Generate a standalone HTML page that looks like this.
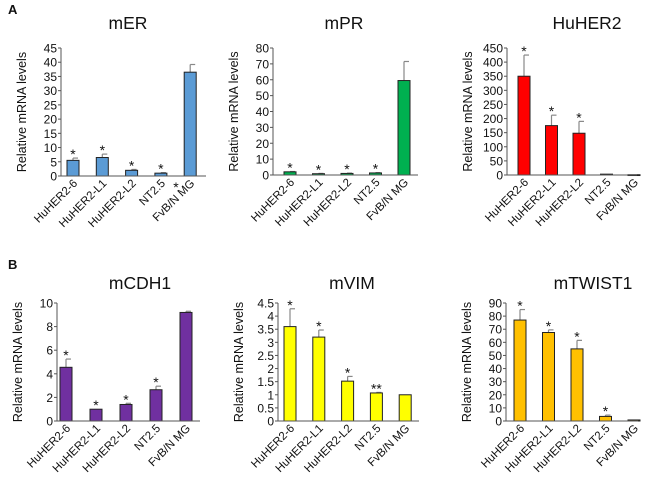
<!DOCTYPE html>
<html><head><meta charset="utf-8"><style>
body{margin:0;background:#fff;}
svg text{font-family:"Liberation Sans",sans-serif;fill:#111;}
</style></head><body>
<svg id="fig" width="650" height="481" viewBox="0 0 650 481" xmlns="http://www.w3.org/2000/svg">
<text x="8" y="14" font-size="13" font-weight="bold">A</text>
<text x="8" y="269" font-size="13" font-weight="bold">B</text>
<text x="176" y="192" font-size="14" text-anchor="middle">*</text>
</svg>
<script>
const categories=["HuHER2-6","HuHER2-L1","HuHER2-L2","NT2.5","FvB/N MG"];
const merValues=[5.5,6.5,2,1,36.5];
const merErrors=[0.8,1.2,0.3,0.2,2.7];
const merStars=["*","*","*","*",""];
const merTicks=[0,5,10,15,20,25,30,35,40,45];
const mprValues=[2,0.8,1,1.3,59.5];
const mprErrors=[0.2,0.2,0.2,0.2,12];
const mprStars=["*","*","*","*",""];
const mprTicks=[0,10,20,30,40,50,60,70,80];
const her2Values=[350,175,148,3,1];
const her2Errors=[75,37,42,0,0];
const her2Stars=["*","*","*","",""];
const her2Ticks=[0,50,100,150,200,250,300,350,400,450];
const cdh1Values=[4.55,1,1.4,2.65,9.2];
const cdh1Errors=[0.7,0,0.1,0.3,0.1];
const cdh1Stars=["*","*","*","*",""];
const cdh1Ticks=[0,2,4,6,8,10];
const vimValues=[3.6,3.2,1.52,1.07,1];
const vimErrors=[0.68,0.27,0.18,0.02,0];
const vimStars=["*","*","*","**",""];
const vimTicks=[0,0.5,1,1.5,2,2.5,3,3.5,4,4.5];
const twistValues=[77,67.5,55,3.5,0.8];
const twistErrors=[8,2,6.5,1,0];
const twistStars=["*","*","*","*",""];
const twistTicks=[0,10,20,30,40,50,60,70,80,90];

const NS="http://www.w3.org/2000/svg";
const svg=document.getElementById('fig');
function mk(tag,attrs,parent){const e=document.createElementNS(NS,tag);for(const k in attrs)e.setAttribute(k,attrs[k]);(parent||svg).appendChild(e);return e;}

const panels=[
 {id:"mer",title:"mER",vals:merValues,errs:merErrors,stars:merStars,ticks:merTicks,color:"#5b9bd5",ax:61,ax2:206,y0:176,yt:48,b0:73,step:29.3,tx:128,ty:29},
 {id:"mpr",title:"mPR",vals:mprValues,errs:mprErrors,stars:mprStars,ticks:mprTicks,color:"#00b050",ax:273,ax2:418,y0:175,yt:48,b0:290,step:28.5,tx:344,ty:29},
 {id:"huher2",title:"HuHER2",vals:her2Values,errs:her2Errors,stars:her2Stars,ticks:her2Ticks,color:"#ff0000",ax:507,ax2:637,y0:175,yt:48,b0:524,step:27.5,tx:587,ty:29},
 {id:"mcdh1",title:"mCDH1",vals:cdh1Values,errs:cdh1Errors,stars:cdh1Stars,ticks:cdh1Ticks,color:"#7030a0",ax:57,ax2:200,y0:421,yt:303,b0:66,step:30,tx:140,ty:289},
 {id:"mvim",title:"mVIM",vals:vimValues,errs:vimErrors,stars:vimStars,ticks:vimTicks,color:"#ffff00",ax:278,ax2:419,y0:421,yt:303,b0:290,step:28.8,tx:352,ty:289},
 {id:"mtwist1",title:"mTWIST1",vals:twistValues,errs:twistErrors,stars:twistStars,ticks:twistTicks,color:"#ffc000",ax:506,ax2:638,y0:421,yt:303,b0:520,step:28.5,tx:593,ty:289}
];

panels.forEach(p=>{
 const g=mk('g',{});
 
 
 const max=p.ticks[p.ticks.length-1];
 const y=v=>p.y0-(v/max)*(p.y0-p.yt);
 const x=i=>p.b0+i*p.step;
 const t=mk('text',{x:p.tx,y:p.ty,'font-size':17.5,'text-anchor':'middle'},g);t.textContent=p.title;
 
 
 const yt=mk('text',{transform:`translate(${p.ax-35},${(p.y0+p.yt)/2}) rotate(-90)`,'font-size':12.5,'text-anchor':'middle'},g);yt.textContent="Relative mRNA levels";
 
 
 p.ticks.forEach(v=>{
  mk('line',{x1:p.ax-3,x2:p.ax,y1:y(v),y2:y(v),stroke:'#555'},g);
  const tl=mk('text',{x:p.ax-4,y:y(v)+4.5,'font-size':12,'text-anchor':'end'},g);tl.textContent=String(v);
  
  
 });
 p.vals.forEach((v,i)=>{
  const cx=x(i);
  const e=p.errs[i];
  if(e>0){
   mk('line',{x1:cx,x2:cx,y1:y(v),y2:y(v+e),stroke:'#888','stroke-width':1.2},g);
   mk('line',{x1:cx,x2:cx+5,y1:y(v+e),y2:y(v+e),stroke:'#888','stroke-width':1.2},g);
  }
  const b=mk('rect',{x:cx-6,y:y(v),width:12,height:Math.max(p.y0-y(v),0.8),fill:p.color,stroke:'#222','stroke-width':1},g);
  
  
  if(p.stars[i]){
   const s=mk('text',{x:cx,y:y(v+e)+1,'font-size':14,'text-anchor':'middle'},g);s.textContent=p.stars[i];
   
   
  }
  const cl=mk('text',{transform:`translate(${cx+5},${p.y0+8}) rotate(-45)`,'font-size':11.5,'text-anchor':'end'},g);cl.textContent=categories[i];
  
  
 });
 mk('line',{x1:p.ax,x2:p.ax,y1:p.yt,y2:p.y0,stroke:'#555'},g);
 mk('line',{x1:p.ax,x2:p.ax2,y1:p.y0,y2:p.y0,stroke:'#555'},g);
});
</script>
</body></html>
